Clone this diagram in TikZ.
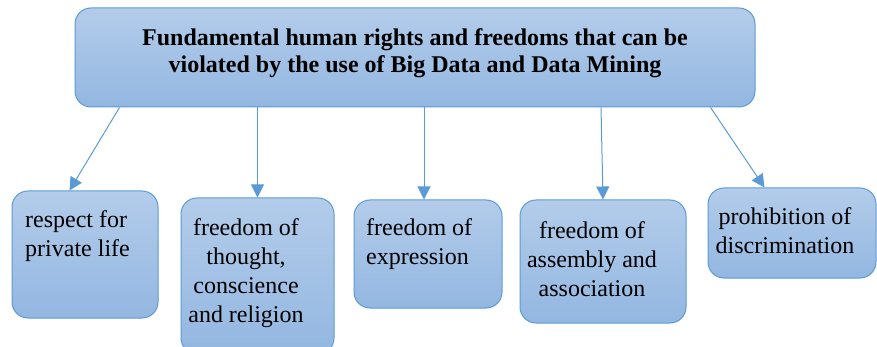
\documentclass[tikz,border=0pt]{standalone}
\usepackage{fontspec}
\setmainfont{Liberation Serif}
\usetikzlibrary{arrows.meta}
\definecolor{boxtop}{HTML}{B3CCEA}
\definecolor{boxbot}{HTML}{93B7E1}
\definecolor{boxline}{HTML}{5B9BD5}
\tikzset{
  box/.style={draw=boxline, line width=1pt, rounded corners=16pt, top color=boxtop, bottom color=boxbot, inner sep=0pt},
  txt/.style={font=\fontsize{24}{29}\selectfont, align=center, inner sep=0pt},
  arr/.style={draw=boxline, line width=1pt, -{Triangle[length=13pt,width=13pt]}}
}
\begin{document}
\begin{tikzpicture}[x=1pt,y=-1pt]
\useasboundingbox (0,0) rectangle (877,347);
\node[box, minimum width=680pt, minimum height=99pt] (top) at (415,57.5) {};
\node[font=\bfseries\fontsize{24}{27}\selectfont, align=center, inner sep=0pt] (tt) at (415,53)
  {Fundamental human rights and freedoms that can be\\violated by the use of Big Data and Data Mining};
\node[box, minimum width=146pt, minimum height=127pt] (b1) at (85,254.5) {};
\node[box, minimum width=153pt, minimum height=156pt] (b2) at (257.5,276) {};
\node[box, minimum width=148pt, minimum height=108pt] (b3) at (428,254) {};
\node[box, minimum width=166pt, minimum height=123pt] (b4) at (603,261.5) {};
\node[box, minimum width=168pt, minimum height=90pt] (b5) at (792,233) {};
\node[txt, align=left, anchor=west] (t1) at (25,236.5) {respect for\\private life};
\node[txt] (t2) at (246,273) {freedom of\\thought,\\conscience\\and religion};
\node[txt, align=left, anchor=west] (t3) at (366,244.5) {freedom of\\expression};
\node[txt] (t4) at (592,259.5) {freedom of\\assembly and\\association};
\node[txt] (t5) at (785,231) {prohibition of\\discrimination};
\draw[arr] ([xshift=45pt]top.south west) -- ([xshift=58pt]b1.north west);
\draw[arr] (top.south -| b2.north) -- (b2.north);
\draw[arr] ([xshift=9pt]top.south) -- ([xshift=-4pt]b3.north);
\draw[arr] ([xshift=186pt]top.south) -- (b4.north);
\draw[arr] ([xshift=-45pt]top.south east) -- ([xshift=57pt]b5.north west);
\end{tikzpicture}
\end{document}
